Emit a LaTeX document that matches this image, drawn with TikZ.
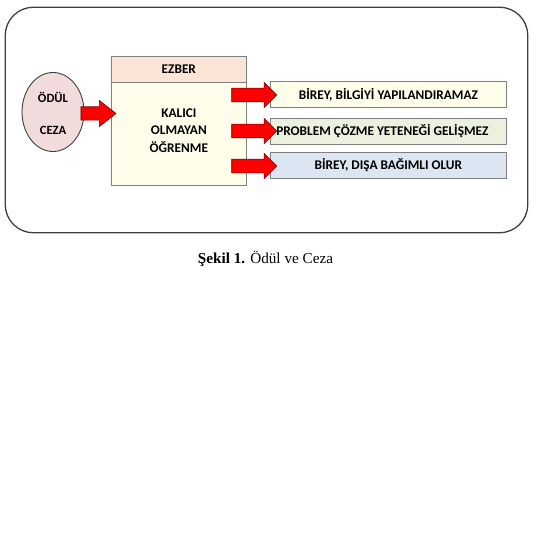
\documentclass[tikz,border=0pt]{standalone}
\usepackage{fontspec}
\setmainfont{Liberation Serif}
\newfontfamily\calfont{Carlito}
\usetikzlibrary{shapes.geometric,shapes.arrows}
\definecolor{peach}{HTML}{FCE4D6}
\definecolor{lyellow}{HTML}{FEFEEA}
\definecolor{lgreen}{HTML}{EBF1DE}
\definecolor{lblue}{HTML}{DCE6F2}
\definecolor{pinkfill}{HTML}{F2DCDB}
\definecolor{boxline}{HTML}{808080}
\definecolor{darkline}{HTML}{404040}
\tikzset{
  lbl/.style={font=\calfont\bfseries\fontsize{13.3}{15}\selectfont, text=black},
  rbox/.style={draw=boxline, line width=0.9pt, minimum width=235.3pt, lbl, inner sep=0pt},
  fatarrow/.style={single arrow, draw=red!45!black, fill=red, line width=0.6pt,
    inner xsep=0pt, inner ysep=6.5pt, single arrow head extend=5.8pt, anchor=center}
}
\begin{document}
\begin{tikzpicture}[x=1pt,y=-1pt]
\useasboundingbox (0,0) rectangle (540,540);
\draw[darkline, line width=1.3pt, rounded corners=28pt] (5.3,7.3) rectangle (527.7,232.7);
% ellipse
\node[ellipse, draw=darkline, fill=pinkfill, line width=0.9pt, minimum width=62pt, minimum height=79pt, inner sep=0pt] (e) at (53,112) {};
\node[lbl, font=\calfont\bfseries\fontsize{12.6}{14}\selectfont] (odul) at (53,97) {ÖDÜL};
\node[lbl, font=\calfont\bfseries\fontsize{12.6}{14}\selectfont] (ceza) at (53,130) {CEZA};
% EZBER box
\node[draw=boxline, fill=peach, line width=0.9pt, minimum width=134.3pt, minimum height=26.3pt, inner sep=0pt, lbl] (ez) at (178.85,69.15) {EZBER};
\node[draw=boxline, fill=lyellow, line width=0.9pt, minimum width=134.3pt, minimum height=102.7pt, inner sep=0pt] (body) at (178.85,133.65) {};
\node[lbl, align=center, font=\calfont\bfseries\fontsize{13.3}{17.2}\selectfont] (bt) at (178.85,130.5) {KALICI\\OLMAYAN\\ÖĞRENME};
% right boxes
\node[rbox, fill=lyellow, minimum height=26pt] (b1) at (388.35,94.7) {BİREY, BİLGİYİ YAPILANDIRAMAZ};
\node[rbox, fill=lgreen, minimum height=25.7pt] (b2) at (388.35,131.2) {\hspace*{-12pt}PROBLEM ÇÖZME YETENEĞİ GELİŞMEZ};
\node[rbox, fill=lblue, minimum height=25.6pt] (b3) at (388.35,165.5) {BİREY, DIŞA BAĞIMLI OLUR};
% arrows
\node[fatarrow, minimum height=35pt, single arrow tip angle=76, inner ysep=6.4pt, single arrow head extend=6.3pt] (a0) at (94.2,113.5) {};
\node[fatarrow, minimum height=45pt, single arrow tip angle=90] (a1) at (250.8,95) {};
\node[fatarrow, minimum height=45pt, single arrow tip angle=90] (a2) at (250.8,131) {};
\node[fatarrow, minimum height=45pt, single arrow tip angle=90] (a3) at (250.8,166) {};
% caption
\node[font=\fontsize{15.2}{17}\selectfont] (cap) at (265.5,259) {\textbf{Şekil 1.} Ödül ve Ceza};
\end{tikzpicture}
\end{document}
